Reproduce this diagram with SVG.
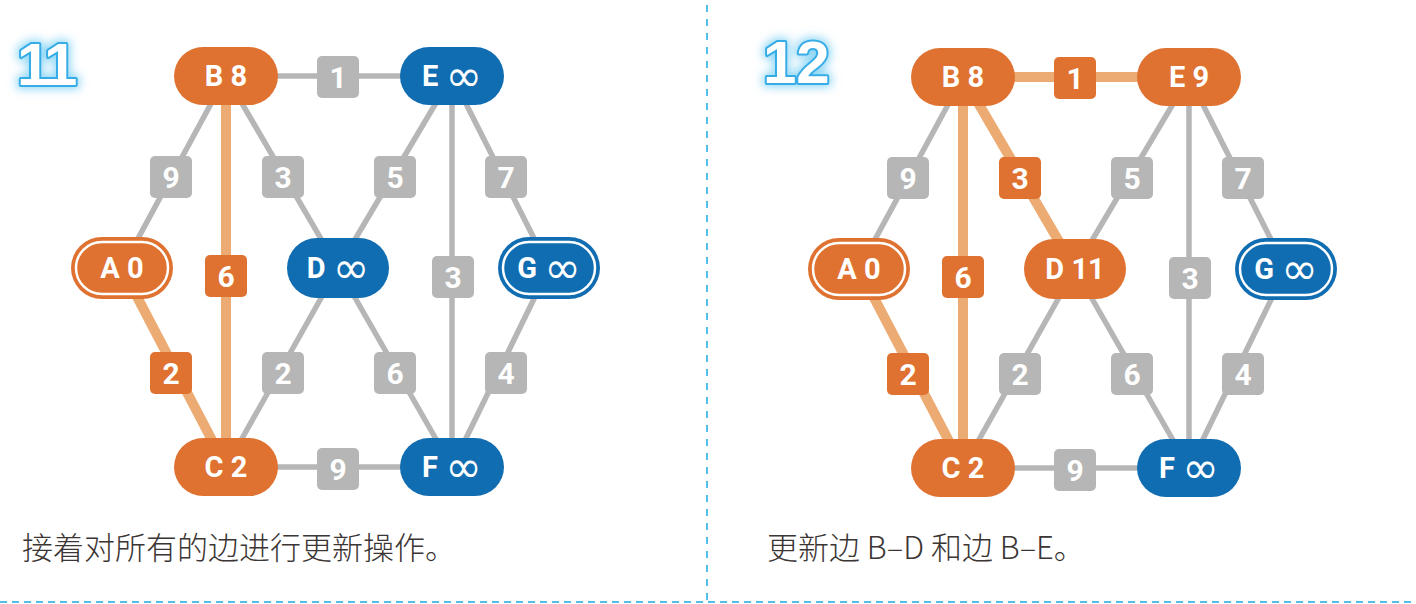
<svg xmlns="http://www.w3.org/2000/svg" width="1416" height="604" viewBox="0 0 1416 604">
<defs>
<style>
.edge{stroke:#b5b6b5;stroke-width:5.5;fill:none}
.edge.hl{stroke:#ecab72;stroke-width:10}
.lbl rect{fill:#b5b6b5}
.lbl.hl rect{fill:#df7230}
.lbl text{font-family:Roboto,"Liberation Sans",sans-serif;font-weight:700;font-size:30px;fill:#fff;text-anchor:middle}
.o{fill:#df7230}
.b{fill:#106db1}
.ring{fill:none;stroke:#fff;stroke-width:2.5}
.nt{font-family:Roboto,"Liberation Sans",sans-serif;font-weight:700;font-size:29px;fill:#fff;text-anchor:middle}
.inf{font-family:"DejaVu Sans",sans-serif;font-weight:400;font-size:44px}
.step{font-family:"Liberation Sans",Arial,sans-serif;font-weight:700;font-size:60px;fill:#fff;stroke:#35ace6;stroke-width:4;stroke-linejoin:round;paint-order:stroke}
.cap{font-family:"Noto Sans CJK SC","Noto Sans",sans-serif;font-weight:300;font-size:31px;fill:#3b3533}
.div{stroke:#53bfe9;stroke-width:2;fill:none}
</style>
<filter id="glow" x="-50%" y="-50%" width="200%" height="200%">
<feMorphology in="SourceAlpha" operator="dilate" radius="2" result="d"/>
<feGaussianBlur in="d" stdDeviation="5" result="bl"/>
<feFlood flood-color="#6ccaf2" flood-opacity="0.75"/>
<feComposite in2="bl" operator="in" result="g"/>
<feMerge><feMergeNode in="g"/><feMergeNode in="SourceGraphic"/></feMerge>
</filter>
</defs>
<rect width="1416" height="604" fill="#fff"/>
<g id="dividers">
<line class="div" x1="707" y1="5" x2="707" y2="604" stroke-dasharray="7 7"/>
<line class="div" x1="0" y1="602" x2="1416" y2="602" stroke-dasharray="7 5"/>
</g>
<g id="step11" filter="url(#glow)"><text class="step" x="17" y="85" letter-spacing="-3">11</text></g>
<g id="step12" filter="url(#glow)"><text class="step" x="763" y="83">12</text></g>

<!-- LEFT PANEL -->
<g id="left-panel">
<g id="L-connectors">
<line class="edge" x1="226" y1="76" x2="452" y2="76"/>
<line class="edge" x1="226" y1="76" x2="122" y2="268"/>
<line class="edge" x1="226" y1="76" x2="338" y2="268"/>
<line class="edge" x1="452" y1="76" x2="338" y2="268"/>
<line class="edge" x1="452" y1="76" x2="452" y2="467"/>
<line class="edge" x1="452" y1="76" x2="549" y2="268"/>
<line class="edge" x1="338" y1="268" x2="226" y2="467"/>
<line class="edge" x1="338" y1="268" x2="452" y2="467"/>
<line class="edge" x1="549" y1="268" x2="452" y2="467"/>
<line class="edge" x1="226" y1="467" x2="452" y2="467"/>
<line class="edge hl" x1="226" y1="76" x2="226" y2="467"/>
<line class="edge hl" x1="122" y1="268" x2="226" y2="467"/>
<g class="lbl" transform="translate(338,77)"><rect x="-21" y="-21" width="42" height="42" rx="5"/><text y="11">1</text></g>
<g class="lbl" transform="translate(171,177)"><rect x="-21" y="-21" width="42" height="42" rx="5"/><text y="11">9</text></g>
<g class="lbl" transform="translate(283,177)"><rect x="-21" y="-21" width="42" height="42" rx="5"/><text y="11">3</text></g>
<g class="lbl" transform="translate(395,177)"><rect x="-21" y="-21" width="42" height="42" rx="5"/><text y="11">5</text></g>
<g class="lbl" transform="translate(506,177)"><rect x="-21" y="-21" width="42" height="42" rx="5"/><text y="11">7</text></g>
<g class="lbl hl" transform="translate(226,276)"><rect x="-21" y="-21" width="42" height="42" rx="5"/><text y="11">6</text></g>
<g class="lbl" transform="translate(453,277)"><rect x="-21" y="-21" width="42" height="42" rx="5"/><text y="11">3</text></g>
<g class="lbl hl" transform="translate(171,373)"><rect x="-21" y="-21" width="42" height="42" rx="5"/><text y="11">2</text></g>
<g class="lbl" transform="translate(283,373)"><rect x="-21" y="-21" width="42" height="42" rx="5"/><text y="11">2</text></g>
<g class="lbl" transform="translate(395,373)"><rect x="-21" y="-21" width="42" height="42" rx="5"/><text y="11">6</text></g>
<g class="lbl" transform="translate(506,373)"><rect x="-21" y="-21" width="42" height="42" rx="5"/><text y="11">4</text></g>
<g class="lbl" transform="translate(338,469)"><rect x="-21" y="-21" width="42" height="42" rx="5"/><text y="11">9</text></g>
</g>
<g id="L-node-A" transform="translate(122,268)"><rect class="o" x="-51" y="-31" width="102" height="62" rx="31"/><rect class="ring" x="-46" y="-26" width="92" height="52" rx="26"/><text class="nt" y="10">A 0</text></g>
<g id="L-node-B" transform="translate(226,76)"><rect class="o" x="-52" y="-29" width="104" height="58" rx="29"/><text class="nt" y="10">B 8</text></g>
<g id="L-node-C" transform="translate(226,467)"><rect class="o" x="-52" y="-29" width="104" height="58" rx="29"/><text class="nt" y="10">C 2</text></g>
<g id="L-node-D" transform="translate(338,268)"><rect class="b" x="-51" y="-30" width="102" height="60" rx="30"/><text class="nt" y="10">D <tspan class="inf" dy="5">∞</tspan></text></g>
<g id="L-node-E" transform="translate(452,76)"><rect class="b" x="-52" y="-29" width="104" height="58" rx="29"/><text class="nt" y="10">E <tspan class="inf" dy="5">∞</tspan></text></g>
<g id="L-node-F" transform="translate(452,467)"><rect class="b" x="-52" y="-29" width="104" height="58" rx="29"/><text class="nt" y="10">F <tspan class="inf" dy="5">∞</tspan></text></g>
<g id="L-node-G" transform="translate(549,268)"><rect class="b" x="-51" y="-31" width="102" height="62" rx="31"/><rect class="ring" x="-46" y="-26" width="92" height="52" rx="26"/><text class="nt" y="10">G <tspan class="inf" dy="5">∞</tspan></text></g>
</g>

<!-- RIGHT PANEL -->
<g id="right-panel" transform="translate(737,1)">
<g id="R-connectors">
<line class="edge" x1="226" y1="76" x2="122" y2="268"/>
<line class="edge" x1="452" y1="76" x2="338" y2="268"/>
<line class="edge" x1="452" y1="76" x2="452" y2="467"/>
<line class="edge" x1="452" y1="76" x2="549" y2="268"/>
<line class="edge" x1="338" y1="268" x2="226" y2="467"/>
<line class="edge" x1="338" y1="268" x2="452" y2="467"/>
<line class="edge" x1="549" y1="268" x2="452" y2="467"/>
<line class="edge" x1="226" y1="467" x2="452" y2="467"/>
<line class="edge hl" x1="226" y1="76" x2="452" y2="76"/>
<line class="edge hl" x1="226" y1="76" x2="338" y2="268"/>
<line class="edge hl" x1="226" y1="76" x2="226" y2="467"/>
<line class="edge hl" x1="122" y1="268" x2="226" y2="467"/>
<g class="lbl hl" transform="translate(338,77)"><rect x="-21" y="-21" width="42" height="42" rx="5"/><text y="11">1</text></g>
<g class="lbl" transform="translate(171,177)"><rect x="-21" y="-21" width="42" height="42" rx="5"/><text y="11">9</text></g>
<g class="lbl hl" transform="translate(283,177)"><rect x="-21" y="-21" width="42" height="42" rx="5"/><text y="11">3</text></g>
<g class="lbl" transform="translate(395,177)"><rect x="-21" y="-21" width="42" height="42" rx="5"/><text y="11">5</text></g>
<g class="lbl" transform="translate(506,177)"><rect x="-21" y="-21" width="42" height="42" rx="5"/><text y="11">7</text></g>
<g class="lbl hl" transform="translate(226,276)"><rect x="-21" y="-21" width="42" height="42" rx="5"/><text y="11">6</text></g>
<g class="lbl" transform="translate(453,277)"><rect x="-21" y="-21" width="42" height="42" rx="5"/><text y="11">3</text></g>
<g class="lbl hl" transform="translate(171,373)"><rect x="-21" y="-21" width="42" height="42" rx="5"/><text y="11">2</text></g>
<g class="lbl" transform="translate(283,373)"><rect x="-21" y="-21" width="42" height="42" rx="5"/><text y="11">2</text></g>
<g class="lbl" transform="translate(395,373)"><rect x="-21" y="-21" width="42" height="42" rx="5"/><text y="11">6</text></g>
<g class="lbl" transform="translate(506,373)"><rect x="-21" y="-21" width="42" height="42" rx="5"/><text y="11">4</text></g>
<g class="lbl" transform="translate(338,469)"><rect x="-21" y="-21" width="42" height="42" rx="5"/><text y="11">9</text></g>
</g>
<g id="R-node-A" transform="translate(122,268)"><rect class="o" x="-51" y="-31" width="102" height="62" rx="31"/><rect class="ring" x="-46" y="-26" width="92" height="52" rx="26"/><text class="nt" y="10">A 0</text></g>
<g id="R-node-B" transform="translate(226,76)"><rect class="o" x="-52" y="-29" width="104" height="58" rx="29"/><text class="nt" y="10">B 8</text></g>
<g id="R-node-C" transform="translate(226,467)"><rect class="o" x="-52" y="-29" width="104" height="58" rx="29"/><text class="nt" y="10">C 2</text></g>
<g id="R-node-D" transform="translate(338,268)"><rect class="o" x="-51" y="-30" width="102" height="60" rx="30"/><text class="nt" y="10">D 11</text></g>
<g id="R-node-E" transform="translate(452,76)"><rect class="o" x="-52" y="-29" width="104" height="58" rx="29"/><text class="nt" y="10">E 9</text></g>
<g id="R-node-F" transform="translate(452,467)"><rect class="b" x="-52" y="-29" width="104" height="58" rx="29"/><text class="nt" y="10">F <tspan class="inf" dy="5">∞</tspan></text></g>
<g id="R-node-G" transform="translate(549,268)"><rect class="b" x="-51" y="-31" width="102" height="62" rx="31"/><rect class="ring" x="-46" y="-26" width="92" height="52" rx="26"/><text class="nt" y="10">G <tspan class="inf" dy="5">∞</tspan></text></g>
</g>

<text class="cap" x="22" y="559">接着对所有的边进行更新操作。</text>
<text class="cap" x="767" y="559">更新边 B–D 和边 B–E。</text>
</svg>
